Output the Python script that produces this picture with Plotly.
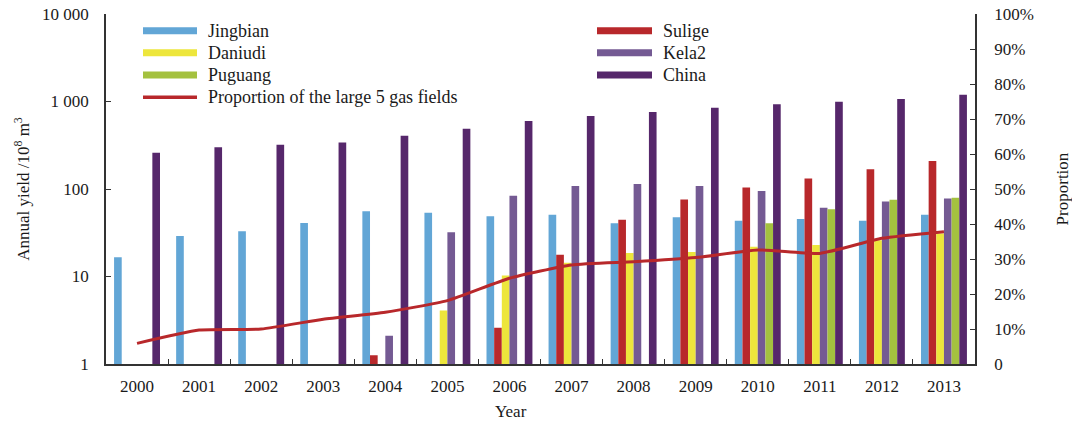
import plotly.graph_objects as go

# ---- data ----
years = [str(y) for y in range(2000, 2014)]

jingbian = [16.6, 29, 33, 41, 55.6, 53.6, 48.8, 50.8, 40.5, 47.5, 43.4, 45.4, 43.4, 50.8]
sulige = [None, None, None, None, 1.26, None, 2.6, 17.7, 44.6, 76, 104, 132, 168, 209]
daniudi = [None, None, None, None, None, 4.1, 10.3, 14.4, 18.6, 19.0, 21.9, 22.9, 26, 31]
kela2 = [None, None, None, None, 2.1, 32, 84, 108, 114, 108, 95, 61, 72, 78]
puguang = [None, None, None, None, None, None, None, None, None, None, 40.5, 58.6, 75.5, 79.5]
china = [260, 300, 321, 339, 407, 489, 599, 683, 760, 849, 929, 995, 1069, 1196]
proportion = [5.9, 9.7, 10.0, 12.8, 14.8, 18.1, 24.5, 28.3, 29.2, 30.4, 32.6, 31.6, 35.9, 37.8]

left_tickvals = [1, 10, 100, 1000, 10000]
left_ticktext = ["1", "10", "100", "1 000", "10 000"]
right_tickvals = list(range(0, 101, 10))
right_ticktext = ["0"] + [f"{v}%" for v in range(10, 101, 10)]

# ---- styling ----
FONT = "Liberation Serif, Times New Roman, serif"
TXT = "#1a1a1a"
AXIS = "#333333"
C_JING = "#62a6d6"
C_SUL = "#b8282b"
C_DAN = "#ede63c"
C_KELA = "#745a93"
C_PUG = "#a4c13f"
C_CHN = "#56276b"
C_LINE = "#b8282b"

W, H = 1072, 423
L, R, T, B = 106, 97, 14, 59
PW, PH = W - L - R, H - T - B

series = [
    ("Jingbian", jingbian, C_JING),
    ("Sulige", sulige, C_SUL),
    ("Daniudi", daniudi, C_DAN),
    ("Kela2", kela2, C_KELA),
    ("Puguang", puguang, C_PUG),
    ("China", china, C_CHN),
]

fig = go.Figure()
for name, vals, col in series:
    fig.add_trace(go.Bar(
        x=years, y=vals, name=name, marker_color=col,
        marker_line_width=0, showlegend=False,
    ))

fig.add_trace(go.Scatter(
    x=years, y=proportion, name="Proportion of the large 5 gas fields",
    mode="lines", line=dict(color=C_LINE, width=3, shape="spline", smoothing=0.5),
    yaxis="y2", showlegend=False,
))


def px_x(p):
    return (p - L) / PW


def px_y(p):
    return (H - B - p) / PH


# legend drawn as swatches + text in two columns
legend_left = [
    ("Jingbian", C_JING, 30.7, 7),
    ("Daniudi", C_DAN, 52.7, 7),
    ("Puguang", C_PUG, 75.0, 7),
    ("Proportion of the large 5 gas fields", C_LINE, 97.3, 3.5),
]
legend_right = [
    ("Sulige", C_SUL, 30.7, 7),
    ("Kela2", C_KELA, 52.7, 7),
    ("China", C_CHN, 75.0, 7),
]

shapes = []
annotations = []
for items, x0, x1, tx in ((legend_left, 143, 197, 206), (legend_right, 597, 652, 661)):
    for label, col, yc, hh in items:
        shapes.append(dict(
            type="rect", xref="paper", yref="paper",
            x0=px_x(x0), x1=px_x(x1),
            y0=px_y(yc + hh / 2), y1=px_y(yc - hh / 2),
            fillcolor=col, line=dict(width=0),
        ))
        annotations.append(dict(
            text=label, xref="paper", yref="paper",
            x=px_x(tx), y=px_y(yc), xanchor="left", yanchor="middle",
            showarrow=False, font=dict(family=FONT, size=18, color=TXT),
        ))

annotations.append(dict(
    text="Year", xref="paper", yref="paper",
    x=px_x(511), y=px_y(411), xanchor="center", yanchor="middle",
    showarrow=False, font=dict(family=FONT, size=17, color=TXT),
))

fig.update_layout(
    width=W, height=H,
    margin=dict(l=L, r=R, t=T, b=B, pad=0, autoexpand=False),
    paper_bgcolor="white", plot_bgcolor="white",
    barmode="group", bargap=0.26, bargroupgap=0,
    font=dict(family=FONT, size=17, color=TXT),
    shapes=shapes, annotations=annotations,
    xaxis=dict(
        type="category", showgrid=False, showline=True, linecolor=AXIS, linewidth=1.5,
        ticks="inside", ticklen=5, tickcolor=AXIS, tickson="boundaries",
        tickfont=dict(family=FONT, size=17, color=TXT), ticklabelstandoff=6,
        mirror=False, automargin=False,
    ),
    yaxis=dict(
        type="log", range=[0, 4], showgrid=False, showline=True,
        linecolor=AXIS, linewidth=1.5, ticks="inside", ticklen=5, tickcolor=AXIS,
        tickvals=left_tickvals, ticktext=left_ticktext,
        tickfont=dict(family=FONT, size=17, color=TXT), ticklabelstandoff=12,
        title=dict(text="Annual yield /10<sup>8</sup> m<sup>3</sup>",
                   font=dict(family=FONT, size=17, color=TXT), standoff=8),
        zeroline=False, automargin=False,
    ),
    yaxis2=dict(
        overlaying="y", side="right", range=[0, 100], showgrid=False,
        showline=True, linecolor=AXIS, linewidth=1.5, ticks="inside", ticklen=5,
        tickcolor=AXIS, tickvals=right_tickvals, ticktext=right_ticktext,
        tickfont=dict(family=FONT, size=17, color=TXT), ticklabelstandoff=14,
        title=dict(text="Proportion", font=dict(family=FONT, size=17, color=TXT),
                   standoff=23),
        zeroline=False, automargin=False,
    ),
)

fig.write_html("out.html")
